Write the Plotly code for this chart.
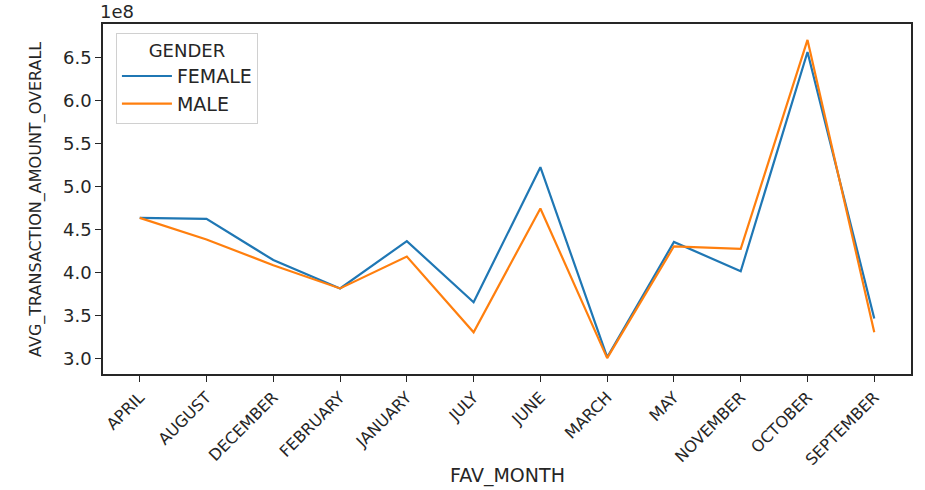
import plotly.graph_objects as go

# Average overall transaction amount by favourite month, split by gender
months = ["APRIL", "AUGUST", "DECEMBER", "FEBRUARY", "JANUARY", "JULY",
          "JUNE", "MARCH", "MAY", "NOVEMBER", "OCTOBER", "SEPTEMBER"]
female_avg = [4.64e8, 4.63e8, 4.15e8, 3.82e8, 4.37e8, 3.66e8,
              5.23e8, 3.02e8, 4.36e8, 4.02e8, 6.57e8, 3.47e8]
male_avg = [4.64e8, 4.39e8, 4.09e8, 3.82e8, 4.19e8, 3.31e8,
            4.75e8, 3.01e8, 4.31e8, 4.28e8, 6.71e8, 3.31e8]
y_ticks = [3.0e8, 3.5e8, 4.0e8, 4.5e8, 5.0e8, 5.5e8, 6.0e8, 6.5e8]
y_scale = 1e8

FONT = "DejaVu Sans"
TEXT_COLOR = "#262626"
AXIS_COLOR = "#262626"

fig = go.Figure()
fig.add_trace(go.Scatter(x=list(range(len(months))), y=female_avg, name="FEMALE",
                         mode="lines", line=dict(color="#1f77b4", width=2.2)))
fig.add_trace(go.Scatter(x=list(range(len(months))), y=male_avg, name="MALE",
                         mode="lines", line=dict(color="#ff7f0e", width=2.2)))

# matplotlib-style 5% data margins
all_y = female_avg + male_avg
lo, hi = min(all_y), max(all_y)
pad = 0.05 * (hi - lo)
n = len(months)

axis_common = dict(showline=True, linecolor=AXIS_COLOR, linewidth=1.5, mirror=True,
                   ticks="outside", ticklen=6, tickcolor=AXIS_COLOR, tickwidth=1.2,
                   showgrid=False, zeroline=False, automargin=False)

fig.update_layout(
    width=925, height=490,
    margin=dict(l=103, r=14, t=24, b=116),
    plot_bgcolor="white", paper_bgcolor="white",
    font=dict(family=FONT, size=16, color=TEXT_COLOR),
    xaxis=dict(axis_common, range=[-0.55, n - 1 + 0.55],
               tickvals=list(range(n)), ticktext=months, tickangle=-45,
               tickfont=dict(family=FONT, size=16, color=TEXT_COLOR)),
    yaxis=dict(axis_common, range=[lo - pad, hi + pad],
               tickvals=y_ticks, ticktext=[f"{v / y_scale:.1f}" for v in y_ticks],
               tickfont=dict(family=FONT, size=18, color=TEXT_COLOR)),
    legend=dict(x=0.016, y=0.975, xanchor="left", yanchor="top",
                bgcolor="rgba(255,255,255,0.8)", bordercolor="#d0d0d0", borderwidth=1,
                itemwidth=50, tracegroupgap=0,
                title=dict(text="GENDER", side="top center",
                           font=dict(family=FONT, size=18, color=TEXT_COLOR)),
                font=dict(family=FONT, size=19, color=TEXT_COLOR)),
    showlegend=True,
)

# Axis titles and the y-axis scale factor
fig.add_annotation(text="FAV_MONTH", xref="paper", yref="paper", x=0.5, y=-0.252,
                   xanchor="center", yanchor="top", showarrow=False,
                   font=dict(family=FONT, size=19, color=TEXT_COLOR))
fig.add_annotation(text="AVG_TRANSACTION_AMOUNT_OVERALL", xref="paper", yref="paper",
                   x=-0.083, y=0.5, xanchor="center", yanchor="middle", textangle=-90,
                   showarrow=False, font=dict(family=FONT, size=16, color=TEXT_COLOR))
fig.add_annotation(text="1e8", xref="paper", yref="paper", x=-0.006, y=1.0,
                   xanchor="left", yanchor="bottom", showarrow=False,
                   font=dict(family=FONT, size=18, color=TEXT_COLOR))

fig.write_html("out.html")
